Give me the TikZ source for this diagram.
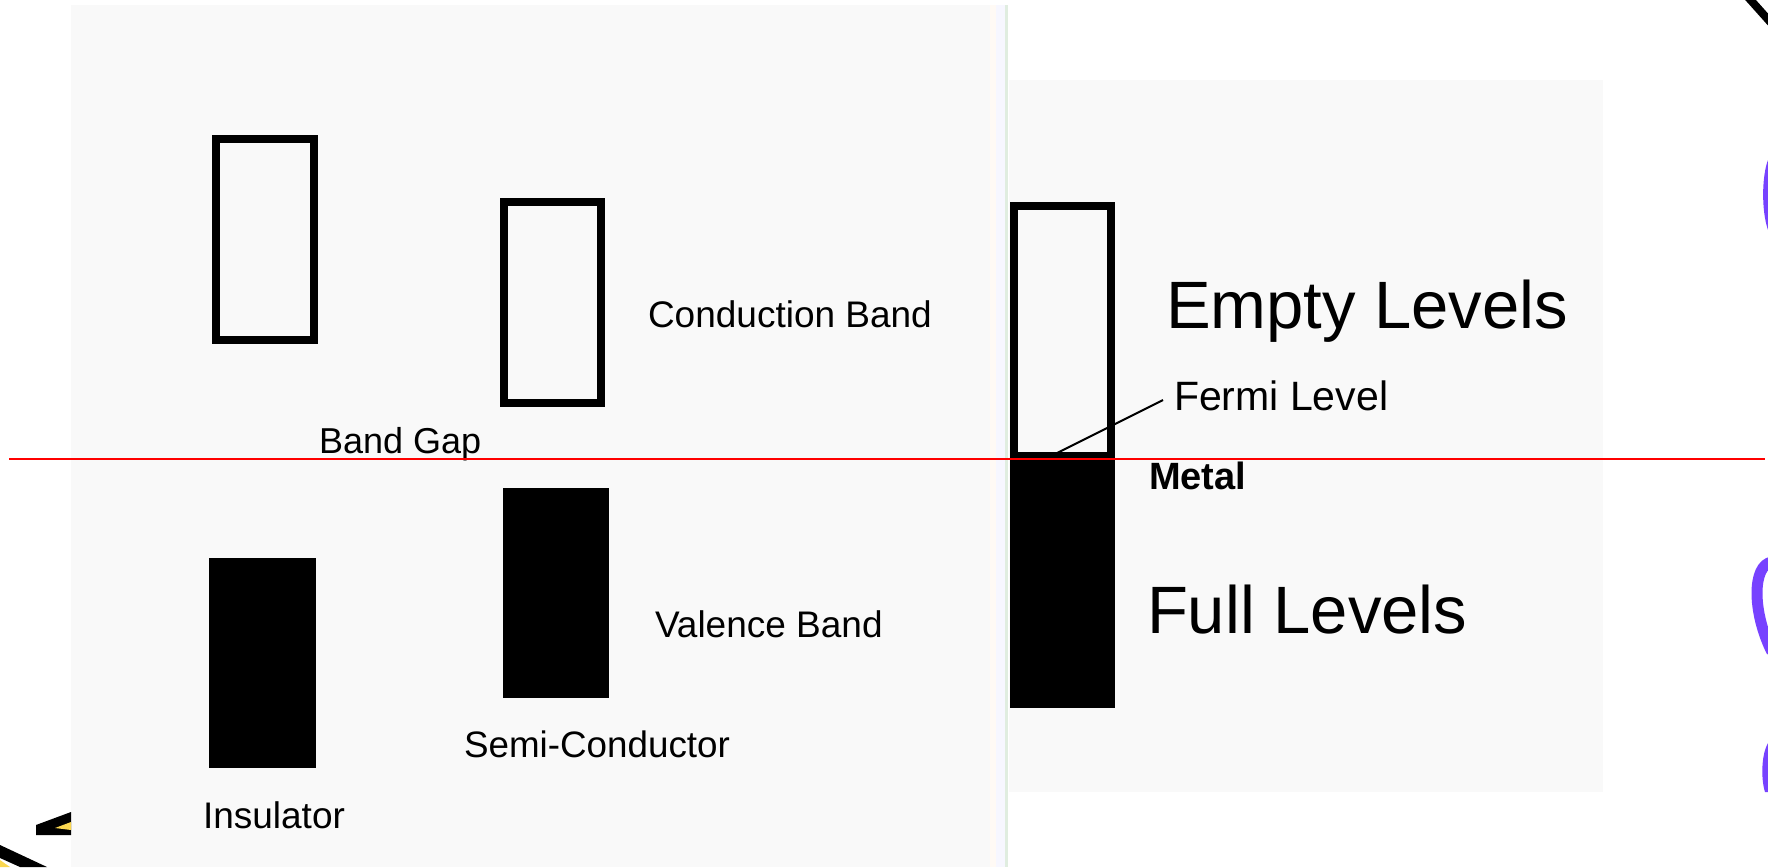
\documentclass[tikz,border=0pt]{standalone}
\usepackage{fontspec}
\setmainfont{Liberation Sans}
\newcommand{\myfs}[1]{\fontsize{#1}{#1}\selectfont}
\definecolor{panel}{HTML}{F9F9F9}
\definecolor{purp}{RGB}{119,66,255}
\definecolor{yel}{RGB}{250,215,80}
\tikzset{
  lbl/.style={anchor=base west, inner sep=0pt, outer sep=0pt, text=black},
  ebox/.style={draw=black, line width=8pt, fill=none, rectangle, inner sep=0pt, outer sep=0pt, anchor=north west},
  fbox/.style={fill=black, draw=none, rectangle, inner sep=0pt, outer sep=0pt, anchor=north west},
}
\begin{document}
\begin{tikzpicture}[x=1pt,y=-1pt]
\useasboundingbox (0,0) rectangle (1768,867);
\fill[white] (0,0) rectangle (1768,867);
% panels
\fill[panel] (71,5) rectangle (994,867);
\fill[orange!4] (990,5) rectangle (996,867);
\fill[blue!3] (996,5) rectangle (1005,867);
\fill[green!40!black!12] (1005,5) rectangle (1008,867);
\fill[panel] (1009,80) rectangle (1603,792);
% insulator
\node[ebox, minimum width=98pt, minimum height=201pt] (icb) at (216,139) {};
\node[fbox, minimum width=107pt, minimum height=210pt] (ivb) at (209,558) {};
% semiconductor
\node[ebox, minimum width=97pt, minimum height=201pt] (scb) at (504,202) {};
\node[fbox, minimum width=106pt, minimum height=210pt] (svb) at (503,488) {};
% metal
\node[ebox, minimum width=97pt, minimum height=250pt] (mcb) at (1014,206) {};
\node[fbox, minimum width=105pt, minimum height=255pt] (mvb) at (1010,453) {};
% labels
\node[lbl] (tcb) at (648,327) {\myfs{37}Conduction Band};
\node[lbl] (tbg) at (319,453) {\myfs{36}Band Gap};
\node[lbl] (tvb) at (655,637) {\myfs{37}Valence Band};
\node[lbl] (tsc) at (464,757) {\myfs{36.8}Semi-Conductor};
\node[lbl] (tin) at (203,828) {\myfs{37}Insulator};
\node[lbl] (tel) at (1166,328) {\myfs{67}Empty Levels};
\node[lbl] (tfe) at (1174,410) {\myfs{41}Fermi Level};
\node[lbl] (tme) at (1149,489) {\myfs{38}\bfseries Metal};
\node[lbl] (tfl) at (1147,633) {\myfs{67}Full Levels};
% fermi leader
\coordinate (fpt) at (1057,453);
\draw[line width=2pt] (fpt) -- ([xshift=-11pt,yshift=10pt]tfe.base west);
% red line
\coordinate (r1) at (9,459);
\coordinate (r2) at (1765,459);
\draw[red, line width=2pt] (r1) -- (r2);
% decorations at the edges
\draw[line width=8pt] (1747,-4) -- (1772,24);
\fill[purp] (1768,160) .. controls (1762,175) and (1761,210) .. (1768,230) -- cycle;
\draw[purp, line width=11pt] (1772,562) .. controls (1752,565) and (1752,612) .. (1772,652);
\fill[purp] (1768,743) .. controls (1761,755) and (1761,780) .. (1765,792) -- (1768,792) -- cycle;
\fill[black] (36,825) -- (71,812) -- (71,835) -- (36,835) -- cycle;
\fill[yel] (55,828) -- (71,822) -- (71,830) -- cycle;
\fill[yel] (0,860) -- (0,867) -- (10,867) -- cycle;
\fill[black] (0,845) -- (47,867) -- (20,867) -- (0,858) -- cycle;
\end{tikzpicture}
\end{document}
